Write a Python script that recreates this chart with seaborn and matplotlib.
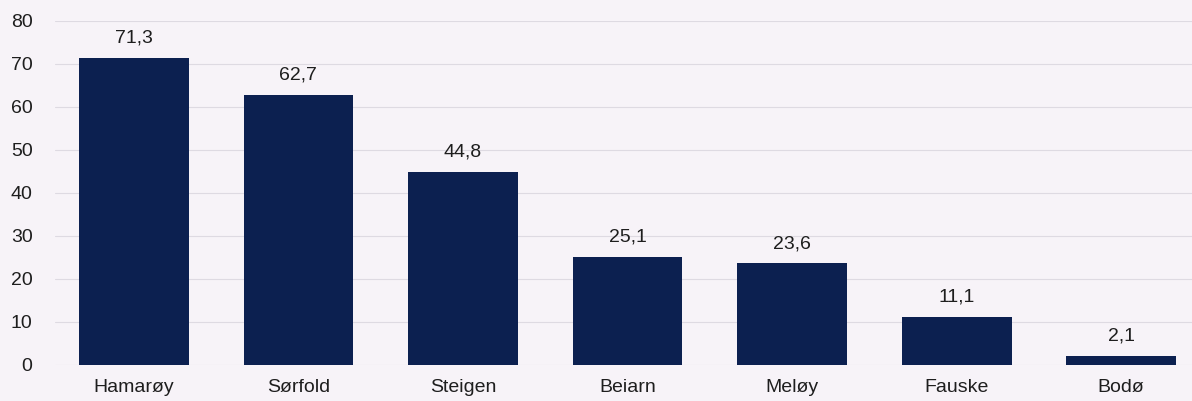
import matplotlib
matplotlib.use("Agg")
import matplotlib.pyplot as plt
import seaborn as sns
import pandas as pd

# data
kommuner = ["Hamarøy", "Sørfold", "Steigen", "Beiarn", "Meløy", "Fauske", "Bodø"]
verdier = [71.3, 62.7, 44.8, 25.1, 23.6, 11.1, 2.1]
yticks = [0, 10, 20, 30, 40, 50, 60, 70, 80]

df = pd.DataFrame({"kommune": kommuner, "verdi": verdier})

bg = "#f7f3f8"
bar_color = "#0c2050"

sns.set_theme(style="white")
plt.rcParams["font.family"] = ["Liberation Sans", "DejaVu Sans"]

fig = plt.figure(figsize=(11.92, 4.01), dpi=100, facecolor=bg)
ax = fig.add_axes([0.046, 0.09, 0.954, 0.858], facecolor=bg)

sns.barplot(data=df, x="kommune", y="verdi", color=bar_color, width=0.667,
            saturation=1, linewidth=0, ax=ax, zorder=3)

# value labels over the bars, with decimal comma
for i, v in enumerate(verdier):
    ax.annotate(f"{v:.1f}".replace(".", ","), (i, v), xytext=(0, 11),
                textcoords="offset points", ha="center", va="baseline",
                fontsize=14, color="#1e1e1e")

ax.set_ylim(0, 80)
ax.set_yticks(yticks)
ax.set_xlim(-0.48, 6.43)
ax.yaxis.grid(True, color="#dedae2", linewidth=0.8, zorder=0)
ax.xaxis.grid(False)
for s in ax.spines.values():
    s.set_visible(False)
ax.tick_params(axis="both", length=0, labelsize=14, labelcolor="#1e1e1e")
ax.tick_params(axis="y", pad=16)
ax.tick_params(axis="x", pad=10)
ax.set_xlabel("")
ax.set_ylabel("")

fig.savefig("out.png", dpi=100, facecolor=bg)
